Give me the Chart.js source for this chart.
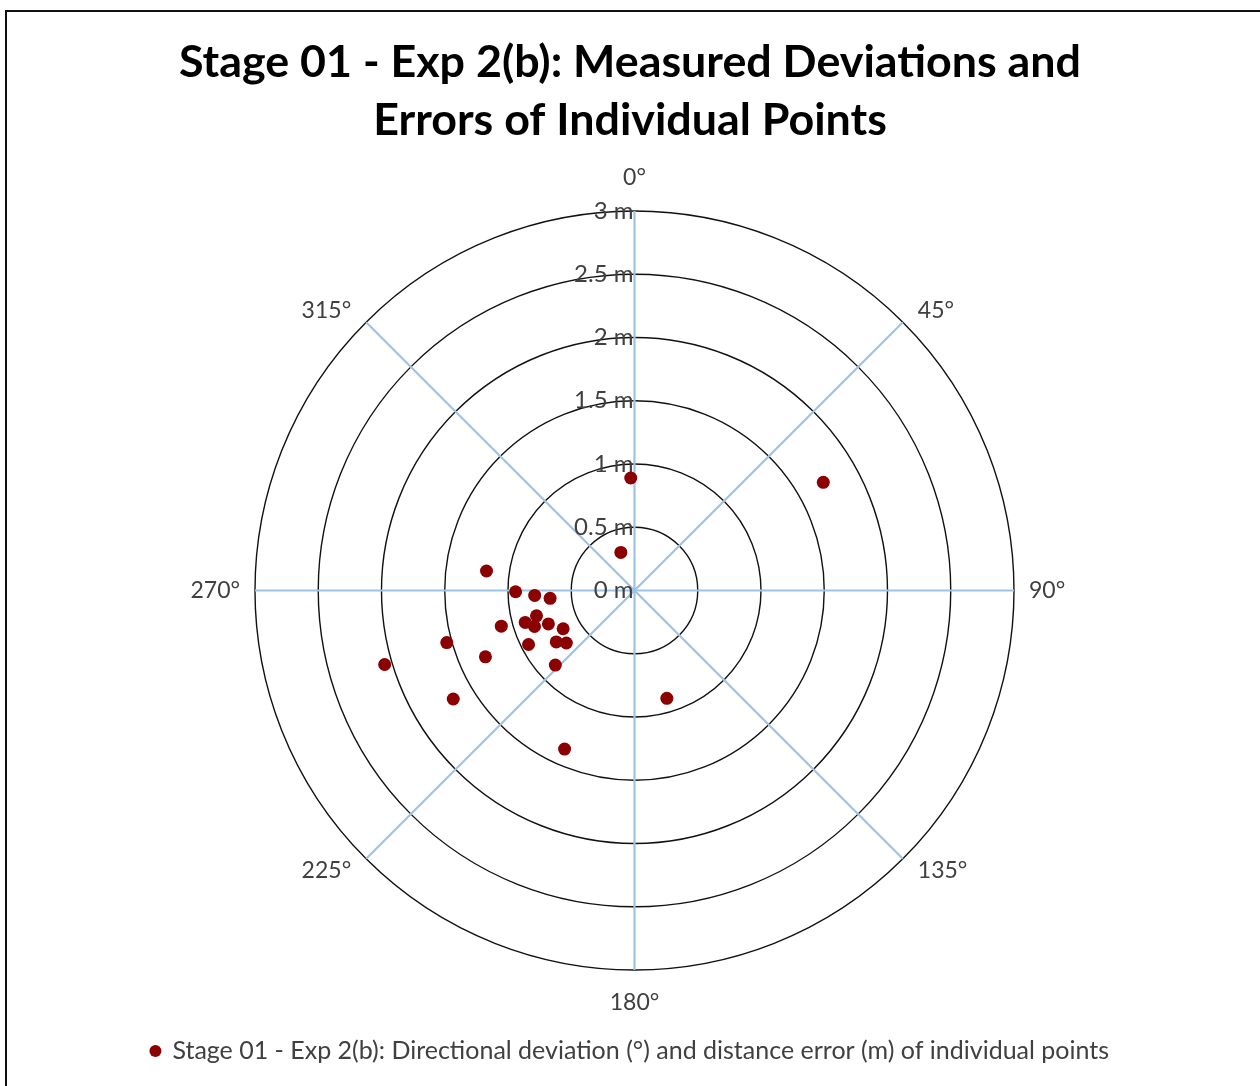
<!DOCTYPE html>
<html>
<head>
<meta charset="utf-8">
<title>Stage 01 - Exp 2(b)</title>
<script src="https://cdn.jsdelivr.net/npm/chart.js@4.4.1/dist/chart.umd.min.js"></script>
<style>
    html, body { margin: 0; padding: 0; background: #fff; overflow: hidden; }
    #wrap { position: absolute; left: 0; top: 0; width: 1260px; height: 1086px; }
    #frame { position: absolute; left: 5px; top: 10px; width: 1300px; height: 1200px;
             border-left: 2px solid #111; border-top: 2px solid #111; pointer-events: none; }
</style>
</head>
<body>
<div id="wrap">
    <canvas id="polar-points-chart" width="1260" height="1086"></canvas>
</div>
<div id="frame"></div>
<script>
// directional deviation (deg, clockwise from 0) and distance error (m) of each point
var directions = [277.5, 269.4, 267.2, 264.7, 255.5, 253.7, 250.2, 248.8, 241.8, 255.0,
                  236.7, 232.4, 243.0, 254.5, 246.0, 253.5, 226.7, 239.1, 203.8, 340.3,
                  358.1, 60.2, 163.3];
var distances = [1.18, 0.94, 0.79, 0.67, 0.80, 0.90, 0.84, 0.73, 0.64, 1.09,
                 0.74, 0.68, 0.94, 1.54, 1.29, 2.06, 0.86, 1.67, 1.37, 0.32,
                 0.89, 1.72, 0.89];

var ringValues = [0, 0.5, 1, 1.5, 2, 2.5, 3];
var ringLabels = ['0 m', '0.5 m', '1 m', '1.5 m', '2 m', '2.5 m', '3 m'];
var spokeAngles = [0, 45, 90, 135, 180, 225, 270, 315];
var spokeLabels = ['0°', '45°', '90°', '135°', '180°', '225°', '270°', '315°'];

var seriesLabel = 'Stage 01 - Exp 2(b): Directional deviation (°) and distance error (m) of individual points';
var titleLines = ['Stage 01 - Exp 2(b): Measured Deviations and', 'Errors of Individual Points'];

var maxRange = 3;
var textColor = '#404040';

function toRad(deg) {
    return deg * Math.PI / 180;
}

var points = directions.map(function (a, i) {
    return { x: distances[i] * Math.sin(toRad(a)), y: distances[i] * Math.cos(toRad(a)) };
});

// rings, spokes and their labels, drawn through the x/y scales
var polarGrid = {
    id: 'polarGrid',
    beforeDatasetsDraw: function (chart) {
        var ctx = chart.ctx;
        var xs = chart.scales.x, ys = chart.scales.y;
        var cx = xs.getPixelForValue(0), cy = ys.getPixelForValue(0);
        var rad = function (v) { return cy - ys.getPixelForValue(v); };

        ctx.save();
        ctx.strokeStyle = '#111';
        ctx.lineWidth = 1.4;
        ringValues.forEach(function (v) {
            if (v <= 0) return;
            ctx.beginPath();
            ctx.arc(cx, cy, rad(v), 0, Math.PI * 2);
            ctx.stroke();
        });

        ctx.strokeStyle = '#9dc3e6';
        ctx.lineWidth = 2.2;
        spokeAngles.forEach(function (a) {
            ctx.beginPath();
            ctx.moveTo(cx, cy);
            ctx.lineTo(xs.getPixelForValue(maxRange * Math.sin(toRad(a))),
                       ys.getPixelForValue(maxRange * Math.cos(toRad(a))));
            ctx.stroke();
        });

        ctx.fillStyle = textColor;
        ctx.textBaseline = 'middle';
        ctx.font = '24px Lato';
        ctx.textAlign = 'right';
        ringValues.forEach(function (v, i) {
            ctx.fillText(ringLabels[i], cx - 1, ys.getPixelForValue(v));
        });

        // angle labels sit just outside the tip of each spoke
        ctx.font = '23px Lato';
        spokeAngles.forEach(function (a, i) {
            var s = Math.sin(toRad(a)), c = Math.cos(toRad(a));
            var tipX = xs.getPixelForValue(maxRange * s);
            var tipY = ys.getPixelForValue(maxRange * c);
            var sx = Math.abs(s) < 0.1 ? 0 : Math.sign(s);
            var sy = Math.abs(c) < 0.1 ? 0 : Math.sign(c);
            ctx.textAlign = sx > 0 ? 'left' : (sx < 0 ? 'right' : 'center');
            var dy = sx === 0 ? 33 : 12;
            ctx.fillText(spokeLabels[i], tipX + sx * 15, tipY - sy * dy);
        });
        ctx.restore();
    }
};

var ctxPolar = document.getElementById('polar-points-chart').getContext('2d');

var dataPolar = {
    datasets: [{
        label: seriesLabel,
        data: points,
        backgroundColor: '#8b0000',
        borderColor: '#8b0000',
        borderWidth: 0,
        pointStyle: 'circle',
        pointRadius: 6.5,
        pointHoverRadius: 6.5,
        clip: false
    }]
};

var optionPolar = {
    responsive: false,
    animation: false,
    events: [],
    layout: {
        padding: { left: 20, right: 20, top: 0, bottom: 12.5 }
    },
    scales: {
        // keep 1 m the same length on both axes, centre at x = 634.5
        x: { type: 'linear', display: false, min: -4.858, max: 4.787 },
        y: { type: 'linear', display: false, min: -maxRange, max: maxRange }
    },
    plugins: {
        title: {
            display: true,
            text: titleLines,
            color: '#000',
            font: { family: 'Lato', size: 44.8, weight: 'bold', lineHeight: 58 / 44.8 },
            padding: { top: 34, bottom: 61 }
        },
        legend: {
            display: true,
            position: 'bottom',
            labels: {
                usePointStyle: true,
                boxWidth: 9,
                boxHeight: 8.5,
                padding: 68.5,
                color: textColor,
                font: { family: 'Lato', size: 25 }
            }
        },
        tooltip: { enabled: false }
    }
};

new Chart(ctxPolar, { type: 'scatter', data: dataPolar, options: optionPolar, plugins: [polarGrid] });
</script>
</body>
</html>
